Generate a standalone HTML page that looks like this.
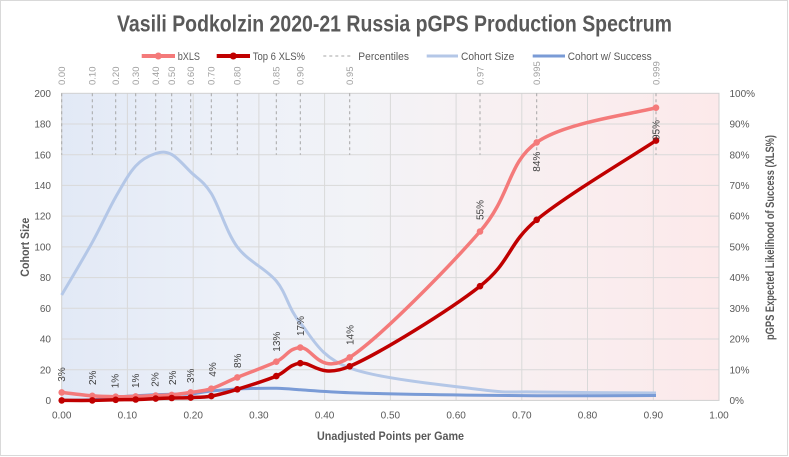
<!DOCTYPE html>
<html><head><meta charset="utf-8"><style>
html,body{margin:0;padding:0;background:#fff;}
svg{display:block;font-family:"Liberation Sans",sans-serif;}
</style></head><body>
<svg width="789" height="457" viewBox="0 0 789 457" xmlns="http://www.w3.org/2000/svg">
<defs>
<linearGradient id="bg" x1="0" y1="0" x2="1" y2="0">
<stop offset="0" stop-color="#e2e9f6"/>
<stop offset="0.25" stop-color="#ecf0f8"/>
<stop offset="0.45" stop-color="#f2f3f7"/>
<stop offset="0.62" stop-color="#f7f1f3"/>
<stop offset="1" stop-color="#fce9ea"/>
</linearGradient>
</defs>
<rect x="0" y="0" width="789" height="457" fill="#fff"/>
<rect x="0.5" y="0.5" width="787" height="455" fill="#fff" stroke="#d9d9d9"/>

<!-- title -->
<text x="117" y="31.7" font-size="23" font-weight="bold" fill="#595959" textLength="555" lengthAdjust="spacingAndGlyphs">Vasili Podkolzin 2020-21 Russia pGPS Production Spectrum</text>

<!-- legend -->
<g font-size="11" fill="#595959">
<line x1="141.7" y1="56" x2="175" y2="56" stroke="#f47a7a" stroke-width="4"/>
<circle cx="158.3" cy="56" r="3.5" fill="#f47a7a"/>
<text x="177.7" y="59.8" textLength="22.3" lengthAdjust="spacingAndGlyphs">bXLS</text>
<line x1="216.7" y1="56" x2="250" y2="56" stroke="#c00000" stroke-width="4"/>
<circle cx="233.3" cy="56" r="3.5" fill="#c00000"/>
<text x="252.7" y="59.8" textLength="52.3" lengthAdjust="spacingAndGlyphs">Top 6 XLS%</text>
<line x1="323.3" y1="56" x2="353" y2="56" stroke="#a6a6a6" stroke-width="1" stroke-dasharray="3,3"/>
<text x="358.3" y="59.8" textLength="50.7" lengthAdjust="spacingAndGlyphs">Percentiles</text>
<line x1="426.7" y1="56" x2="458" y2="56" stroke="#b4c7e7" stroke-width="3"/>
<text x="461" y="59.8" textLength="53.3" lengthAdjust="spacingAndGlyphs">Cohort Size</text>
<line x1="532.7" y1="56" x2="565" y2="56" stroke="#7a9bd6" stroke-width="3"/>
<text x="567.7" y="59.8" textLength="84" lengthAdjust="spacingAndGlyphs">Cohort w/ Success</text>
</g>

<!-- plot area -->
<rect x="61.7" y="93.3" width="657.3" height="307.1" fill="url(#bg)"/>
<g stroke="#d9d9d9" stroke-width="1">
<line x1="61.7" y1="124.0" x2="719" y2="124.0"/>
<line x1="61.7" y1="154.7" x2="719" y2="154.7"/>
<line x1="61.7" y1="185.4" x2="719" y2="185.4"/>
<line x1="61.7" y1="216.1" x2="719" y2="216.1"/>
<line x1="61.7" y1="246.9" x2="719" y2="246.9"/>
<line x1="61.7" y1="277.6" x2="719" y2="277.6"/>
<line x1="61.7" y1="308.3" x2="719" y2="308.3"/>
<line x1="61.7" y1="339.0" x2="719" y2="339.0"/>
<line x1="61.7" y1="369.7" x2="719" y2="369.7"/>
<line x1="127.4" y1="93.3" x2="127.4" y2="400.4"/>
<line x1="193.2" y1="93.3" x2="193.2" y2="400.4"/>
<line x1="258.9" y1="93.3" x2="258.9" y2="400.4"/>
<line x1="324.6" y1="93.3" x2="324.6" y2="400.4"/>
<line x1="390.4" y1="93.3" x2="390.4" y2="400.4"/>
<line x1="456.1" y1="93.3" x2="456.1" y2="400.4"/>
<line x1="521.8" y1="93.3" x2="521.8" y2="400.4"/>
<line x1="587.5" y1="93.3" x2="587.5" y2="400.4"/>
<line x1="653.3" y1="93.3" x2="653.3" y2="400.4"/>
</g>
<rect x="61.7" y="93.3" width="657.3" height="307.1" fill="none" stroke="#d0d0d0" stroke-width="1"/>

<!-- percentile dashed lines -->
<g stroke="#a6a6a6" stroke-width="1" stroke-dasharray="3,3">
<line x1="61.7" y1="93.3" x2="61.7" y2="154.7"/>
<line x1="92.3" y1="93.3" x2="92.3" y2="154.7"/>
<line x1="115.7" y1="93.3" x2="115.7" y2="154.7"/>
<line x1="135.7" y1="93.3" x2="135.7" y2="154.7"/>
<line x1="155.7" y1="93.3" x2="155.7" y2="154.7"/>
<line x1="171.7" y1="93.3" x2="171.7" y2="154.7"/>
<line x1="190.7" y1="93.3" x2="190.7" y2="154.7"/>
<line x1="211.3" y1="93.3" x2="211.3" y2="154.7"/>
<line x1="237.3" y1="93.3" x2="237.3" y2="154.7"/>
<line x1="276.3" y1="93.3" x2="276.3" y2="154.7"/>
<line x1="300.3" y1="93.3" x2="300.3" y2="154.7"/>
<line x1="349.7" y1="93.3" x2="349.7" y2="154.7"/>
<line x1="480" y1="93.3" x2="480" y2="154.7"/>
<line x1="536.7" y1="93.3" x2="536.7" y2="154.7"/>
<line x1="656" y1="93.3" x2="656" y2="154.7"/>
</g>

<!-- percentile labels -->
<g font-size="9.5" fill="#a0a0a0">
<text transform="translate(65,85) rotate(-90)">0.00</text>
<text transform="translate(95.6,85) rotate(-90)">0.10</text>
<text transform="translate(119,85) rotate(-90)">0.20</text>
<text transform="translate(139,85) rotate(-90)">0.30</text>
<text transform="translate(159,85) rotate(-90)">0.40</text>
<text transform="translate(175,85) rotate(-90)">0.50</text>
<text transform="translate(194,85) rotate(-90)">0.60</text>
<text transform="translate(214.6,85) rotate(-90)">0.70</text>
<text transform="translate(240.6,85) rotate(-90)">0.80</text>
<text transform="translate(279.6,85) rotate(-90)">0.85</text>
<text transform="translate(303.6,85) rotate(-90)">0.90</text>
<text transform="translate(353,85) rotate(-90)">0.95</text>
<text transform="translate(483.3,85) rotate(-90)">0.97</text>
<text transform="translate(540,85) rotate(-90)">0.995</text>
<text transform="translate(659.3,85) rotate(-90)">0.999</text>
</g>

<!-- Cohort Size -->
<path fill="none" stroke="#b4c7e7" stroke-width="3" d="M61.7,295 C66.8,286.22 83.3,258.63 92.3,242.3 C101.3,225.97 108.47,209.72 115.7,197 C122.93,184.28 129.03,173.25 135.7,166 C142.37,158.75 149.7,155.42 155.7,153.5 C161.7,151.58 165.87,151.42 171.7,154.5 C177.53,157.58 184.1,165.5 190.7,172 C197.3,178.5 203.53,181 211.3,193.5 C219.07,206 226.47,232.42 237.3,247 C248.13,261.58 265.8,268.33 276.3,281 C286.8,293.67 288.07,308.5 300.3,323 C312.53,337.5 319.75,356.92 349.7,368 C379.65,379.08 448.83,385.5 480,389.5 C511.17,393.5 507.37,391.42 536.7,392 C566.03,392.58 636.12,392.83 656,393"/>

<!-- Cohort w/ Success -->
<path fill="none" stroke="#7a9bd6" stroke-width="3" stroke-linejoin="round" d="M61.7,400.4 C70,400.3 84,400.2 92.3,399.8 C100,399.3 108,397.8 115.7,397 C122,396.5 129,396.2 135.7,395.8 C142,395.4 149,394.9 155.7,394.6 C161,394.4 166,394.3 171.7,394.2 C178,394.1 184,394.4 190.7,394 C198,393.4 203,391.8 211.3,391 C220,390.2 228,389.4 237.3,389 C250,388.5 264,388 276.3,388.3 C285,388.5 292,389.2 300.3,389.8 C315,390.8 330,392 349.7,392.7 C390,394 440,394.8 480,395.2 C500,395.4 520,395.7 536.7,395.8 C570,395.9 620,395.6 656,395.5"/>

<!-- bXLS -->
<path fill="none" stroke="#f47a7a" stroke-width="3.5" d="M61.7,392.4 C66.8,392.97 83.3,395.08 92.3,395.8 C101.3,396.52 108.47,396.6 115.7,396.7 C122.93,396.8 129.03,396.6 135.7,396.4 C142.37,396.2 149.7,395.75 155.7,395.5 C161.7,395.25 165.87,395.42 171.7,394.9 C177.53,394.38 184.1,393.43 190.7,392.4 C197.3,391.37 203.53,391.2 211.3,388.7 C219.07,386.2 226.47,381.9 237.3,377.4 C248.13,372.9 265.8,366.67 276.3,361.7 C286.8,356.73 288.07,348.32 300.3,347.6 C312.53,346.88 319.75,376.75 349.7,357.4 C379.65,338.05 448.83,267.33 480,231.5 C511.17,195.67 507.37,163.03 536.7,142.4 C566.03,121.77 636.12,113.48 656,107.7"/>
<g fill="#f47a7a">
<circle cx="61.7" cy="392.4" r="3.3"/><circle cx="92.3" cy="395.8" r="3.3"/><circle cx="115.7" cy="396.7" r="3.3"/><circle cx="135.7" cy="396.4" r="3.3"/><circle cx="155.7" cy="395.5" r="3.3"/><circle cx="171.7" cy="394.9" r="3.3"/><circle cx="190.7" cy="392.4" r="3.3"/><circle cx="211.3" cy="388.7" r="3.3"/><circle cx="237.3" cy="377.4" r="3.3"/><circle cx="276.3" cy="361.7" r="3.3"/><circle cx="300.3" cy="347.6" r="3.3"/><circle cx="349.7" cy="357.4" r="3.3"/><circle cx="480" cy="231.5" r="3.3"/><circle cx="536.7" cy="142.4" r="3.3"/><circle cx="656" cy="107.7" r="3.3"/>
</g>

<!-- Top 6 XLS% -->
<path fill="none" stroke="#c00000" stroke-width="3.5" d="M61.7,400.4 C66.8,400.4 83.3,400.5 92.3,400.4 C101.3,400.3 108.47,399.95 115.7,399.8 C122.93,399.65 129.03,399.7 135.7,399.5 C142.37,399.3 149.7,398.85 155.7,398.6 C161.7,398.35 165.87,398.17 171.7,398.0 C177.53,397.83 184.1,397.92 190.7,397.6 C197.3,397.28 203.53,397.48 211.3,396.1 C219.07,394.72 226.47,392.63 237.3,389.3 C248.13,385.97 265.8,380.45 276.3,376.1 C286.8,371.75 288.07,364.83 300.3,363.2 C312.53,361.57 319.75,379.13 349.7,366.3 C379.65,353.47 448.83,310.62 480,286.2 C511.17,261.78 507.37,244.07 536.7,219.8 C566.03,195.53 636.12,153.8 656,140.6"/>
<g fill="#c00000">
<circle cx="61.7" cy="400.4" r="3.3"/><circle cx="92.3" cy="400.4" r="3.3"/><circle cx="115.7" cy="399.8" r="3.3"/><circle cx="135.7" cy="399.5" r="3.3"/><circle cx="155.7" cy="398.6" r="3.3"/><circle cx="171.7" cy="398.0" r="3.3"/><circle cx="190.7" cy="397.6" r="3.3"/><circle cx="211.3" cy="396.1" r="3.3"/><circle cx="237.3" cy="389.3" r="3.3"/><circle cx="276.3" cy="376.1" r="3.3"/><circle cx="300.3" cy="363.2" r="3.3"/><circle cx="349.7" cy="366.3" r="3.3"/><circle cx="480" cy="286.2" r="3.3"/><circle cx="536.7" cy="219.8" r="3.3"/><circle cx="656" cy="140.6" r="3.3"/>
</g>

<!-- data labels -->
<g font-size="10" fill="#404040">
<text transform="translate(65.2,381.7) rotate(-90)">3%</text>
<text transform="translate(96.2,385) rotate(-90)">2%</text>
<text transform="translate(118.5,388.3) rotate(-90)">1%</text>
<text transform="translate(139.2,388) rotate(-90)">1%</text>
<text transform="translate(158.5,386.7) rotate(-90)">2%</text>
<text transform="translate(175.8,385) rotate(-90)">2%</text>
<text transform="translate(194.2,383) rotate(-90)">3%</text>
<text transform="translate(215.8,376.7) rotate(-90)">4%</text>
<text transform="translate(240.8,368) rotate(-90)">8%</text>
<text transform="translate(280.2,351.7) rotate(-90)">13%</text>
<text transform="translate(304.2,336) rotate(-90)">17%</text>
<text transform="translate(353.5,345) rotate(-90)">14%</text>
<text transform="translate(483.5,220) rotate(-90)">55%</text>
<text transform="translate(540.2,171.7) rotate(-90)">84%</text>
<text transform="translate(659.5,140) rotate(-90)">95%</text>
</g>

<!-- left axis labels -->
<g font-size="10" fill="#595959" text-anchor="end">
<text x="51" y="96.9">200</text>
<text x="51" y="127.6">180</text>
<text x="51" y="158.3">160</text>
<text x="51" y="189.0">140</text>
<text x="51" y="219.7">120</text>
<text x="51" y="250.5">100</text>
<text x="51" y="281.2">80</text>
<text x="51" y="311.9">60</text>
<text x="51" y="342.6">40</text>
<text x="51" y="373.3">20</text>
<text x="51" y="404.0">0</text>
</g>

<!-- right axis labels -->
<g font-size="10" fill="#595959">
<text x="729.5" y="96.9">100%</text>
<text x="729.5" y="127.6">90%</text>
<text x="729.5" y="158.3">80%</text>
<text x="729.5" y="189.0">70%</text>
<text x="729.5" y="219.7">60%</text>
<text x="729.5" y="250.5">50%</text>
<text x="729.5" y="281.2">40%</text>
<text x="729.5" y="311.9">30%</text>
<text x="729.5" y="342.6">20%</text>
<text x="729.5" y="373.3">10%</text>
<text x="729.5" y="404.0">0%</text>
</g>

<!-- bottom axis labels -->
<g font-size="10" fill="#595959" text-anchor="middle">
<text x="61.7" y="418.6">0.00</text>
<text x="127.4" y="418.6">0.10</text>
<text x="193.2" y="418.6">0.20</text>
<text x="258.9" y="418.6">0.30</text>
<text x="324.6" y="418.6">0.40</text>
<text x="390.4" y="418.6">0.50</text>
<text x="456.1" y="418.6">0.60</text>
<text x="521.8" y="418.6">0.70</text>
<text x="587.5" y="418.6">0.80</text>
<text x="653.3" y="418.6">0.90</text>
<text x="719" y="418.6">1.00</text>
</g>

<!-- axis titles -->
<text x="317" y="440" font-size="11.5" font-weight="bold" fill="#595959" textLength="147" lengthAdjust="spacingAndGlyphs">Unadjusted Points per Game</text>
<text transform="translate(29.2,276.7) rotate(-90)" font-size="11.5" font-weight="bold" fill="#595959" textLength="59" lengthAdjust="spacingAndGlyphs">Cohort Size</text>
<text transform="translate(774.2,340) rotate(-90)" font-size="11.5" font-weight="bold" fill="#595959" textLength="205" lengthAdjust="spacingAndGlyphs">pGPS Expected Likelihood of Success (XLS%)</text>
</svg>
</body></html>
